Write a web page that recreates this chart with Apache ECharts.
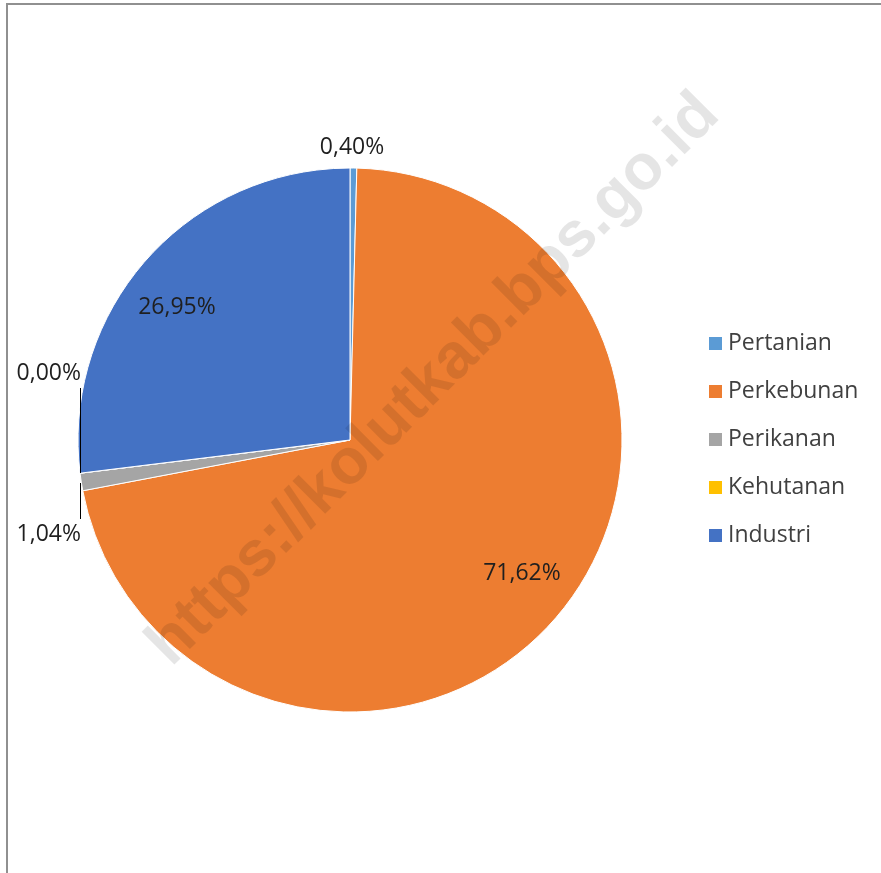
<!DOCTYPE html>
<html>
<head>
<meta charset="utf-8">
<script src="https://cdn.jsdelivr.net/npm/echarts@6/dist/echarts.min.js"></script>
<style>
  html, body { margin: 0; padding: 0; background: #fff; }
  #chart { width: 881px; height: 873px; }
</style>
</head>
<body>
<div id="chart"></div>
<script>
const sektor = ['Pertanian', 'Perkebunan', 'Perikanan', 'Kehutanan', 'Industri'];
const persen = [0.40, 71.62, 1.04, 0.00, 26.95];
const warna = ['#5B9BD5', '#ED7D31', '#A5A5A5', '#FFC000', '#4472C4'];

// where each percent label sits (Excel style placement)
const posisiLabel = [
  { x: 352, y: 147, align: 'center', verticalAlign: 'middle' },
  { x: 522, y: 573, align: 'center', verticalAlign: 'middle' },
  { x: 81, y: 483, align: 'right', verticalAlign: 'top' },
  { x: 81, y: 473, align: 'right', verticalAlign: 'bottom' },
  { x: 177, y: 307, align: 'center', verticalAlign: 'middle' }
];

function teksPersen(v) {
  return v.toFixed(2).replace('.', ',') + '%';
}

function grafikSektor() {
  var chart = echarts.init(document.getElementById('chart'));

  var data = sektor.map(function (nama, i) {
    return { name: nama, value: persen[i], itemStyle: { color: warna[i] } };
  });

  var option = {
    animation: false,
    backgroundColor: '#fff',
    legend: {
      orient: 'vertical',
      left: 702,
      top: 327,
      itemWidth: 15,
      itemHeight: 15,
      itemGap: 25,
      icon: 'rect',
      textStyle: {
        fontFamily: 'Open Sans',
        fontSize: 23,
        lineHeight: 23,
        color: '#404040'
      },
      data: sektor
    },
    graphic: [
      {
        type: 'rect',
        z: 0,
        shape: { x: 7, y: 4, width: 900, height: 900 },
        style: { fill: 'none', stroke: '#909090', lineWidth: 2 }
      },
      {
        type: 'text',
        z: 100,
        x: 434,
        y: 380,
        rotation: Math.PI / 4,
        style: {
          text: 'https://kolutkab.bps.go.id',
          font: 'bold 64px "Liberation Sans"',
          fill: 'rgba(0,0,0,0.1)',
          align: 'center',
          verticalAlign: 'middle'
        }
      }
    ],
    series: [
      {
        name: 'Sektor',
        type: 'pie',
        center: [350, 440],
        radius: 272,
        startAngle: 90,
        clockwise: true,
        avoidLabelOverlap: false,
        itemStyle: { borderColor: '#fff', borderWidth: 1 },
        label: {
          show: true,
          position: 'inside',
          fontFamily: 'Open Sans',
          fontSize: 23,
          color: '#1f1f1f',
          formatter: function (p) {
            var t = teksPersen(p.value);
            if (p.dataIndex === 2) return '{ln|}\n{t|' + t + '}';
            if (p.dataIndex === 3) return '{t|' + t + '}\n{ln|}';
            return t;
          },
          rich: {
            t: { fontFamily: 'Open Sans', fontSize: 23, lineHeight: 30, color: '#1f1f1f' },
            ln: { width: 1, height: 1, backgroundColor: '#000' }
          }
        },
        labelLine: { show: false },
        labelLayout: function (params) {
          return posisiLabel[params.dataIndex];
        },
        data: data
      }
    ]
  };

  // leader line lengths for the two tiny slices
  data[2].label = { rich: { ln: { width: 1, height: 36, lineHeight: 36, backgroundColor: '#000' } } };
  data[3].label = { rich: { ln: { width: 1, height: 85, lineHeight: 85, backgroundColor: '#000' } } };

  chart.setOption(option);
}

grafikSektor();
</script>
</body>
</html>
